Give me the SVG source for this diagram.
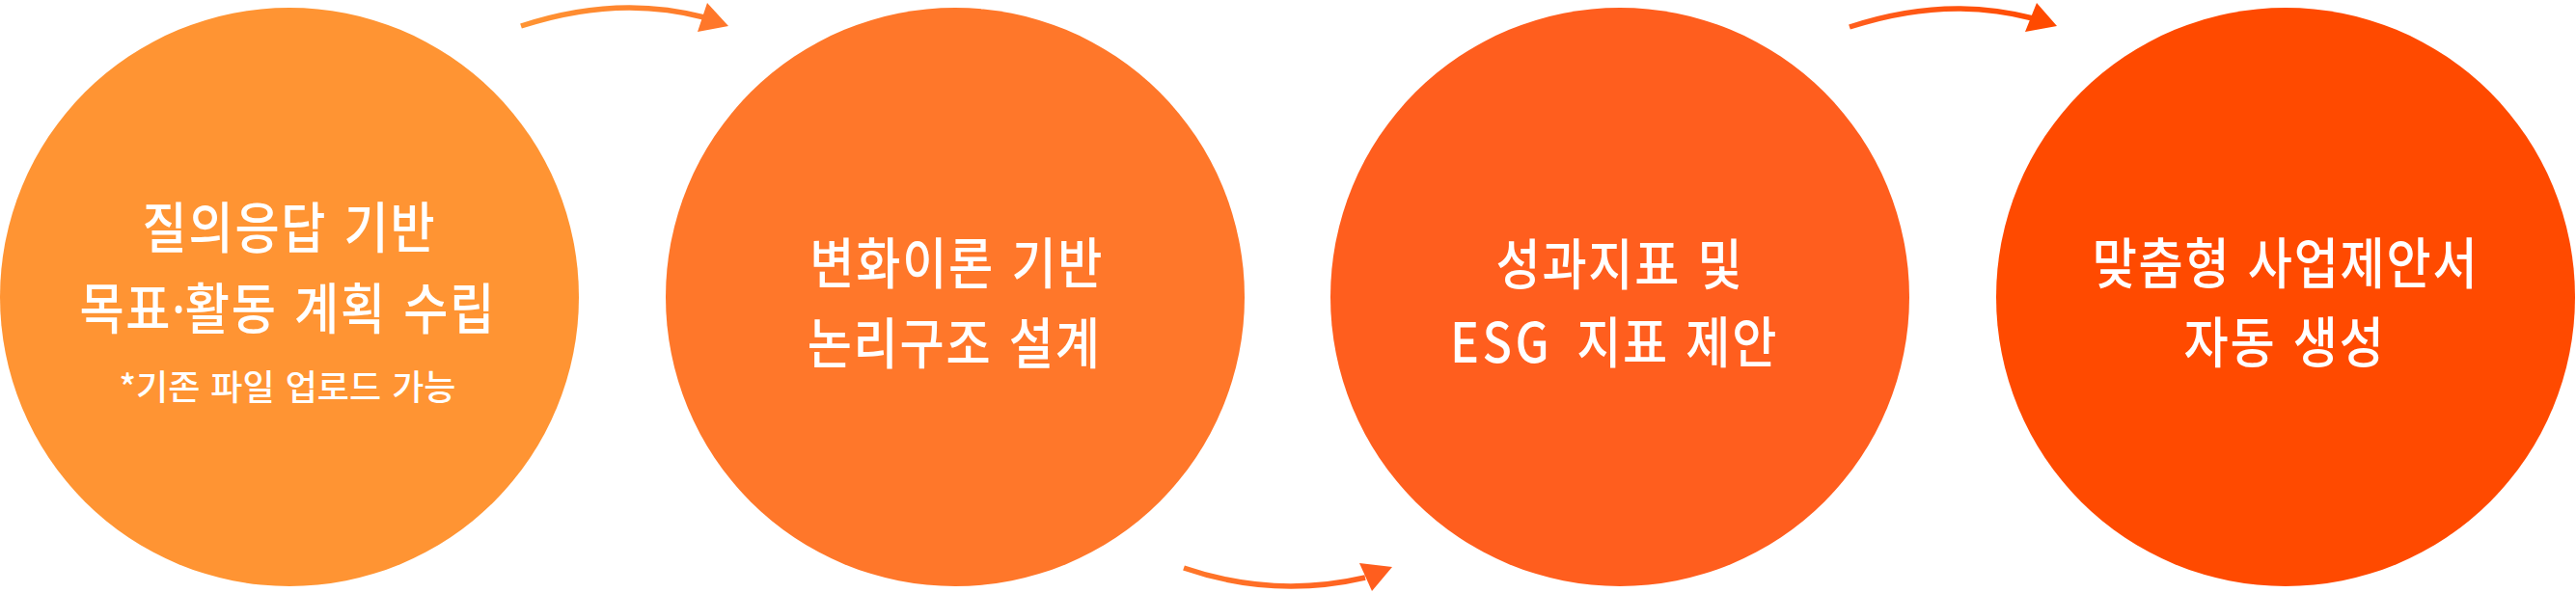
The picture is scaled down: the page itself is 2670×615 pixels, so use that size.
<svg xmlns="http://www.w3.org/2000/svg" width="2670" height="615" viewBox="0 0 2670 615">
  <style>
    .lbl { font-family: "Noto Sans CJK KR", "Noto Sans", sans-serif; fill: #ffffff; text-anchor: middle; font-size: 57px; font-weight: 500; letter-spacing: 2px; word-spacing: 5px; }
    .sub { font-size: 36px; letter-spacing: 0; word-spacing: 3px; }
    .lat { letter-spacing: 4px; }
    .dot { font-family: "Noto Sans", sans-serif; letter-spacing: 0; }
    .line { fill: none; stroke-width: 5.5; stroke-linecap: butt; }
  </style>
  <defs>
    <linearGradient id="g1" gradientUnits="userSpaceOnUse" x1="540" y1="0" x2="755" y2="0">
      <stop offset="0" stop-color="#FF9433"/>
      <stop offset="1" stop-color="#FF772A"/>
    </linearGradient>
    <linearGradient id="g2" gradientUnits="userSpaceOnUse" x1="1227" y1="0" x2="1443" y2="0">
      <stop offset="0" stop-color="#FF772A"/>
      <stop offset="1" stop-color="#FF5E1E"/>
    </linearGradient>
    <linearGradient id="g3" gradientUnits="userSpaceOnUse" x1="1917" y1="0" x2="2132" y2="0">
      <stop offset="0" stop-color="#FF5E1E"/>
      <stop offset="1" stop-color="#FF4A00"/>
    </linearGradient>
  </defs>

  <g id="node-1">
    <circle cx="300" cy="308" r="300" fill="#FF9433"/>
    <g transform="translate(300,0) scale(0.88,1)">
      <text class="lbl" x="0" y="257">질의응답 기반</text>
      <text class="lbl" x="-2" y="341">목표<tspan class="dot">·</tspan>활동 계획 수립</text>
    </g>
    <text class="lbl sub" x="298" y="415">*기존 파일 업로드 가능</text>
  </g>
  <g id="node-2">
    <circle cx="990" cy="308" r="300" fill="#FF772A"/>
    <g transform="translate(990,0) scale(0.88,1)">
      <text class="lbl" x="2" y="294">변화이론 기반</text>
      <text class="lbl" x="-1" y="377">논리구조 설계</text>
    </g>
  </g>
  <g id="node-3">
    <circle cx="1679" cy="308" r="300" fill="#FF5E1E"/>
    <g transform="translate(1679,0) scale(0.88,1)">
      <text class="lbl" x="0" y="295">성과지표 및</text>
      <text class="lbl" x="-200" y="376" style="text-anchor:start"><tspan class="lat">ESG</tspan> <tspan x="-51">지표 제안</tspan></text>
    </g>
  </g>
  <g id="node-4">
    <circle cx="2369" cy="308" r="300" fill="#FF4A00"/>
    <g transform="translate(2369,0) scale(0.88,1)">
      <text class="lbl" x="0" y="294">맞춤형 사업제안서</text>
      <text class="lbl" x="-1" y="376">자동 생성</text>
    </g>
  </g>

  <g id="connectors">
    <g id="arrow-1-2">
      <path class="line" d="M540,27 Q640,-6 730,18" stroke="url(#g1)"/>
      <polygon points="733,3 755,27 723,33" fill="#FF772A"/>
    </g>
    <g id="arrow-2-3">
      <path class="line" d="M1227,589 Q1320,621 1415,599" stroke="url(#g2)"/>
      <polygon points="1409,584 1443,588 1422,613" fill="#FF5E1E"/>
    </g>
    <g id="arrow-3-4">
      <path class="line" d="M1917,28 Q2017,-5 2107,19" stroke="url(#g3)"/>
      <polygon points="2111,3 2132,27 2099,33" fill="#FF4A00"/>
    </g>
  </g>
</svg>
